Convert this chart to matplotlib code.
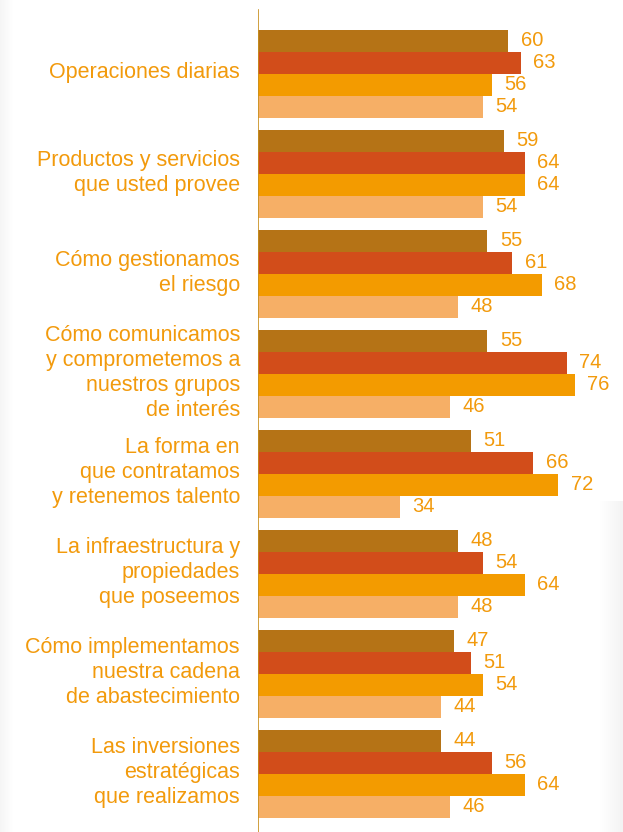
import numpy as np
import matplotlib.pyplot as plt

categories = [
    "Operaciones diarias",
    "Productos y servicios\nque usted provee",
    "Cómo gestionamos\nel riesgo",
    "Cómo comunicamos\ny comprometemos a\nnuestros grupos\nde interés",
    "La forma en\nque contratamos\ny retenemos talento",
    "La infraestructura y\npropiedades\nque poseemos",
    "Cómo implementamos\nnuestra cadena\nde abastecimiento",
    "Las inversiones\nestratégicas\nque realizamos",
]
serie_1 = [60, 59, 55, 55, 51, 48, 47, 44]
serie_2 = [63, 64, 61, 74, 66, 54, 51, 56]
serie_3 = [56, 64, 68, 76, 72, 64, 54, 64]
serie_4 = [54, 54, 48, 46, 34, 48, 44, 46]

colors = ["#B57316", "#D24D1A", "#F39B00", "#F6AF66"]
text_color = "#F29A0C"

plt.rcParams['font.family'] = ['Liberation Sans', 'DejaVu Sans']

W, H = 623, 832
fig = plt.figure(figsize=(W / 100, H / 100), dpi=100)
fig.patch.set_facecolor("white")

# faint page shadow along the edges
bg = fig.add_axes([0, 0, 1, 1], zorder=-1)
bg.axis("off")
grad = np.ones((H, W))
xs = np.arange(W)
left = np.clip(1 - (14 - xs) / 14, 0, 1)
grad *= (0.96 + 0.04 * left)[None, :]
right = np.clip((xs - 598) / 25, 0, 1)
rows = np.arange(H)[:, None] > 500
grad = np.where(rows, grad * (1 - 0.05 * right[None, :]), grad)
bg.imshow(grad, cmap="gray", vmin=0, vmax=1, aspect="auto", extent=(0, 1, 0, 1))

px_per_unit = 4.17
ax = fig.add_axes([258 / W, 0, 1 - 258 / W, 1])
ax.set_xlim(0, (W - 258) / px_per_unit)
ax.set_ylim(7.58, -0.74)
ax.axis("off")

y = np.arange(len(categories))
h = 0.22
series = [serie_1, serie_2, serie_3, serie_4]
for k, vals in enumerate(series):
    pos = y + (k - 1.5) * h
    ax.barh(pos, vals, height=h, color=colors[k], linewidth=0)
    for yy, v in zip(pos, vals):
        ax.annotate(str(v), xy=(v, yy), xytext=(9, 0), textcoords="offset points",
                    ha="left", va="center", fontsize=14.5, color=text_color)

for yy, name in zip(y, categories):
    ax.annotate(name, xy=(0, yy), xytext=(-13, 1), textcoords="offset points",
                ha="right", va="center", fontsize=15.5, color=text_color,
                linespacing=1.25, annotation_clip=False)

ax.axvline(0, ymin=0, ymax=1 - 10 / H, color="#C8901F", linewidth=1.2)

fig.savefig("out.png", dpi=100)
